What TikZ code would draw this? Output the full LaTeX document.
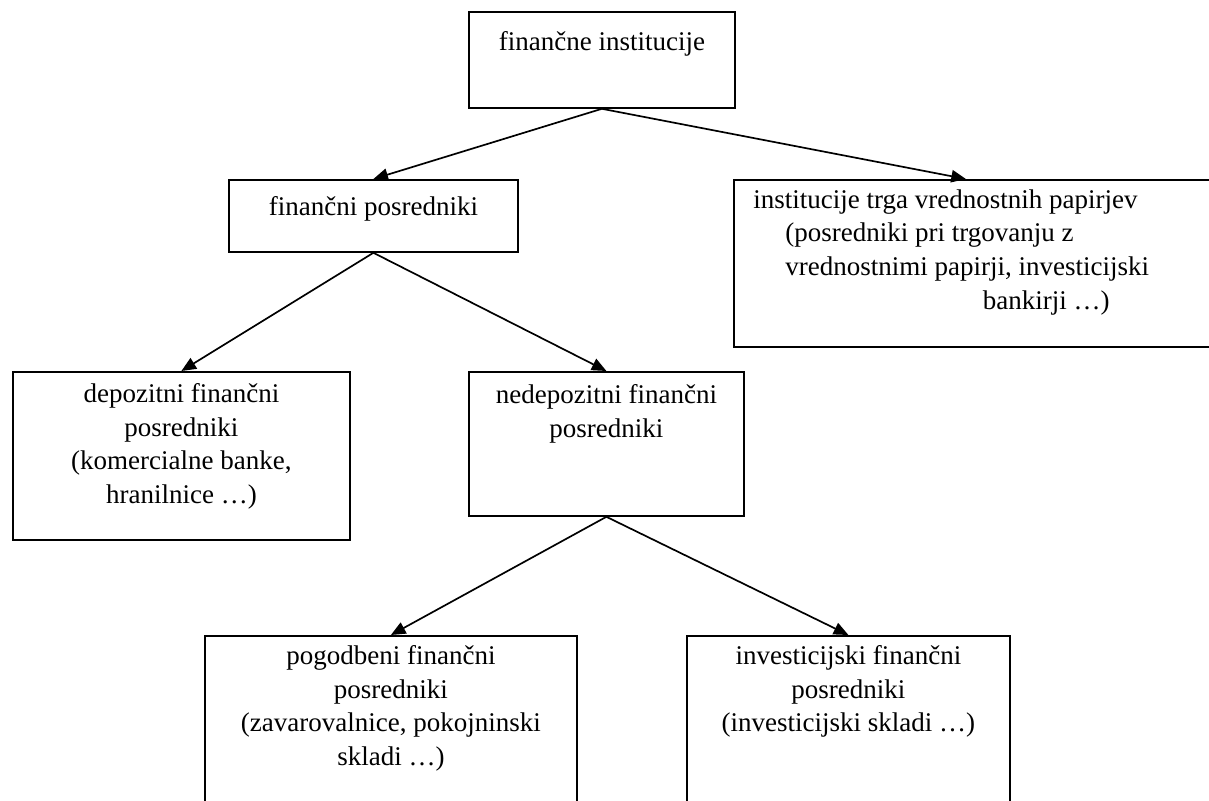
\documentclass[tikz,border=0pt]{standalone}
\usepackage{fontspec}
\setmainfont{Liberation Serif}
\usetikzlibrary{arrows.meta,calc}
\newcommand{\pxu}{0.4444pt}

\begin{document}
\begin{tikzpicture}[x=\pxu,y=-\pxu,
  box/.style={draw,line width=0.8pt,inner sep=0pt,anchor=north west},
  boxtext/.style={anchor=north,align=center,inner sep=0pt,
    font=\fontsize{12}{15}\selectfont,execute at begin node=\strut},
  link/.style={-{Triangle[length=6.5pt,width=5.5pt]},line width=0.75pt}]
\useasboundingbox (0,0) rectangle (1209,801);
\clip (0,0) rectangle (1209,801);

% boxes
\node[box,minimum width=266*\pxu,minimum height=96*\pxu] (fininst) at (468,11) {};
\node[box,minimum width=289*\pxu,minimum height=72*\pxu] (finpos) at (228,179) {};
\node[box,minimum width=520*\pxu,minimum height=167*\pxu] (instit) at (733,179) {};
\node[box,minimum width=337*\pxu,minimum height=168*\pxu] (depo) at (12,371) {};
\node[box,minimum width=275*\pxu,minimum height=144*\pxu] (nedepo) at (468,371) {};
\node[box,minimum width=372*\pxu,minimum height=200*\pxu] (pogod) at (204,635) {};
\node[box,minimum width=323*\pxu,minimum height=200*\pxu] (invest) at (686,635) {};

% texts (strut top sits ~24px above the first baseline)
\node[boxtext] (fininsttxt) at ($(fininst.north)+(0,15)$) {finančne institucije};
\node[boxtext] (finpostxt) at ($(finpos.north)+(0,12)$) {finančni posredniki};
\node[boxtext,anchor=north west,align=left] (instittxt) at (753,189)
  {institucije trga vrednostnih papirjev\\
   \hspace*{14.2pt}(posredniki pri trgovanju z\\
   \hspace*{14.2pt}vrednostnimi papirji, investicijski\\
   \hspace*{102pt}bankirji …)};
\node[boxtext] (depotxt) at ($(depo.north)+(0,12)$)
  {depozitni finančni\\posredniki\\(komercialne banke,\\hranilnice …)};
\node[boxtext] (nedepotxt) at ($(nedepo.north)+(0,13)$)
  {nedepozitni finančni\\posredniki};
\node[boxtext] (pogodtxt) at ($(pogod.north)+(0,10)$)
  {pogodbeni finančni\\posredniki\\(zavarovalnice, pokojninski\\skladi …)};
\node[boxtext] (investtxt) at ($(invest.north)+(0,10)$)
  {investicijski finančni\\posredniki\\(investicijski skladi …)};

% arrows
\draw[link] (fininst.south) -- (finpos.north);
\draw[link] (fininst.south) -- ([xshift=-28*\pxu]instit.north);
\draw[link] (finpos.south) -- (depo.north);
\draw[link] (finpos.south) -- (nedepo.north);
\draw[link] (nedepo.south) -- (pogod.north);
\draw[link] (nedepo.south) -- (invest.north);
\end{tikzpicture}
\end{document}
